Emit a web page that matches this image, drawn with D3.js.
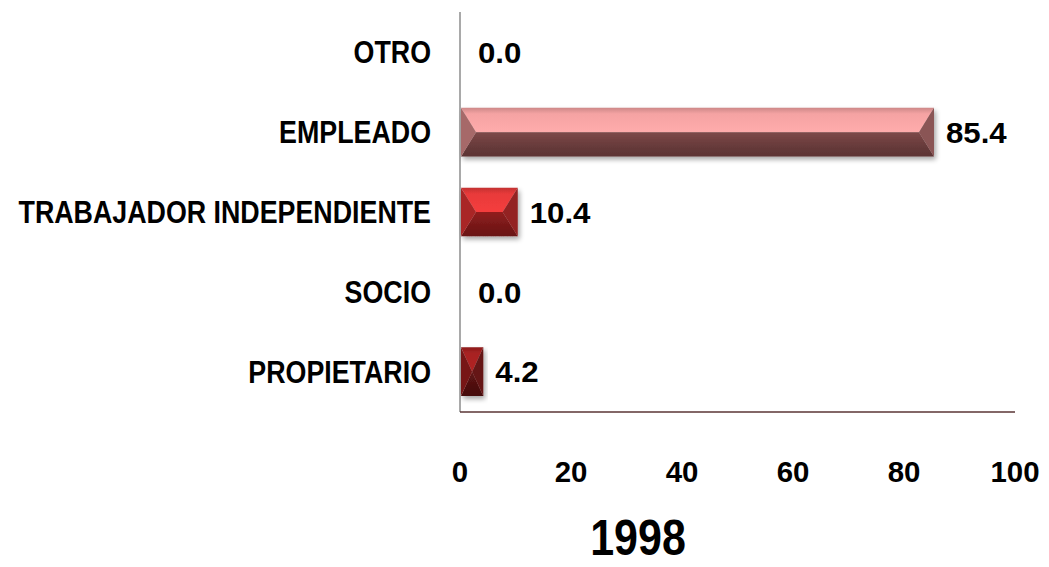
<!DOCTYPE html>
<html>
<head>
<meta charset="utf-8">
<script src="https://cdn.jsdelivr.net/npm/d3@7"></script>
<style>
  body { margin: 0; background: #fff; }
  svg text { font-family: "Liberation Sans", Arial, sans-serif; font-weight: bold; fill: #000; }
</style>
</head>
<body>
<svg id="chart" width="1049" height="567"></svg>
<script>
// data
var categories = ["OTRO", "EMPLEADO", "TRABAJADOR INDEPENDIENTE", "SOCIO", "PROPIETARIO"];
var values     = [0.0, 85.4, 10.4, 0.0, 4.2];
var ticks      = [0, 20, 40, 60, 80, 100];
var title      = "1998";

// bar shades (top face, bottom face) per category
var topColors    = ["#f39c9c", "#f5a3a3", "#e83a3a", "#b02a2a", "#a82222"];
var bottomColors = ["#6a3a3a", "#663a3a", "#761818", "#5a1414", "#4e1010"];

var svg = d3.select("#chart");

var x = d3.scaleLinear().domain([0, 100]).range([460, 1015]);
var y = d3.scaleBand().domain(categories).range([12, 412]).paddingInner(0.39).paddingOuter(0.2);

var defs = svg.append("defs");
var f = defs.append("filter").attr("id", "shadow").attr("x", "-10%").attr("y", "-20%").attr("width", "130%").attr("height", "160%");
f.append("feGaussianBlur").attr("in", "SourceAlpha").attr("stdDeviation", 2.5);
f.append("feOffset").attr("dx", 2).attr("dy", 3).attr("result", "ob");
f.append("feComponentTransfer").append("feFuncA").attr("type", "linear").attr("slope", 0.35);
var m = f.append("feMerge");
m.append("feMergeNode");
m.append("feMergeNode").attr("in", "SourceGraphic");

categories.forEach(function(c, i){
    var gt = defs.append("linearGradient").attr("id", "gt" + i).attr("x1", 0).attr("y1", 0).attr("x2", 0).attr("y2", 1);
    gt.append("stop").attr("offset", "0%").attr("stop-color", d3.color(topColors[i]).darker(0.5));
    gt.append("stop").attr("offset", "25%").attr("stop-color", topColors[i]);
    gt.append("stop").attr("offset", "100%").attr("stop-color", d3.color(topColors[i]).brighter(0.15));
    var gb = defs.append("linearGradient").attr("id", "gb" + i).attr("x1", 0).attr("y1", 0).attr("x2", 0).attr("y2", 1);
    gb.append("stop").attr("offset", "0%").attr("stop-color", d3.color(bottomColors[i]).brighter(0.6));
    gb.append("stop").attr("offset", "60%").attr("stop-color", bottomColors[i]);
    gb.append("stop").attr("offset", "100%").attr("stop-color", d3.color(bottomColors[i]).darker(0.3));
});

// axis lines
svg.append("line").attr("x1", x(0)).attr("x2", x(0)).attr("y1", 12).attr("y2", 412)
   .attr("stroke", "#8c8c8c").attr("stroke-width", 1.5);
svg.append("line").attr("x1", x(0)).attr("x2", x(100)).attr("y1", 412).attr("y2", 412)
   .attr("stroke", "#5a3535").attr("stroke-width", 1.5);

// bars as bevelled blocks
var rows = categories.map(function(c, i){ return {cat: c, val: values[i], i: i}; });
var bars = svg.append("g").selectAll("g").data(rows.filter(function(d){ return d.val > 0; }))
    .enter().append("g").attr("filter", "url(#shadow)");

function poly(pts){ return pts.map(function(p){ return p.join(","); }).join(" "); }

bars.each(function(d){
    var g = d3.select(this);
    var x0 = x(0) + 1, x1 = x(d.val), y0 = y(d.cat), h = y.bandwidth(), y1 = y0 + h;
    var w = x1 - x0, dx = Math.min(15, w / 2), ym = y0 + h / 2;
    // top face
    g.append("polygon").attr("points", poly([[x0, y0], [x1, y0], [x1 - dx, ym], [x0 + dx, ym]]))
        .attr("fill", "url(#gt" + d.i + ")");
    // bottom face
    g.append("polygon").attr("points", poly([[x0 + dx, ym], [x1 - dx, ym], [x1, y1], [x0, y1]]))
        .attr("fill", "url(#gb" + d.i + ")");
    // left and right end faces
    g.append("polygon").attr("points", poly([[x0, y0], [x0 + dx, ym], [x0, y1]]))
        .attr("fill", d3.interpolateRgb(topColors[d.i], bottomColors[d.i])(0.55));
    g.append("polygon").attr("points", poly([[x1, y0], [x1 - dx, ym], [x1, y1]]))
        .attr("fill", d3.interpolateRgb(topColors[d.i], bottomColors[d.i])(0.75));
});

// value labels
svg.append("g").selectAll("text").data(rows).enter().append("text")
    .attr("transform", function(d){
        return "translate(" + (x(d.val) + (d.val > 0 ? 12 : 18)) + "," + (y(d.cat) + y.bandwidth() / 2) + ") scale(1.04,1)";
    })
    .attr("dy", "0.36em")
    .style("font-size", "30px")
    .text(function(d){ return d.val.toFixed(1); });

// category labels (narrow, like the original condensed face)
svg.append("g").selectAll("text").data(categories).enter().append("text")
    .attr("transform", function(d){ return "translate(431," + (y(d) + y.bandwidth() / 2) + ") scale(0.865,1)"; })
    .attr("dy", "0.36em")
    .attr("text-anchor", "end")
    .style("font-size", "31px")
    .text(function(d){ return d; });

// x tick labels
svg.append("g").selectAll("text").data(ticks).enter().append("text")
    .attr("transform", function(d){ return "translate(" + x(d) + ",482) scale(0.98,1)"; })
    .attr("text-anchor", "middle")
    .style("font-size", "30px")
    .text(function(d){ return d; });

svg.append("text").attr("transform", "translate(638,555) scale(0.86,1)").attr("text-anchor", "middle")
    .style("font-size", "50px").text(title);
</script>
</body>
</html>
